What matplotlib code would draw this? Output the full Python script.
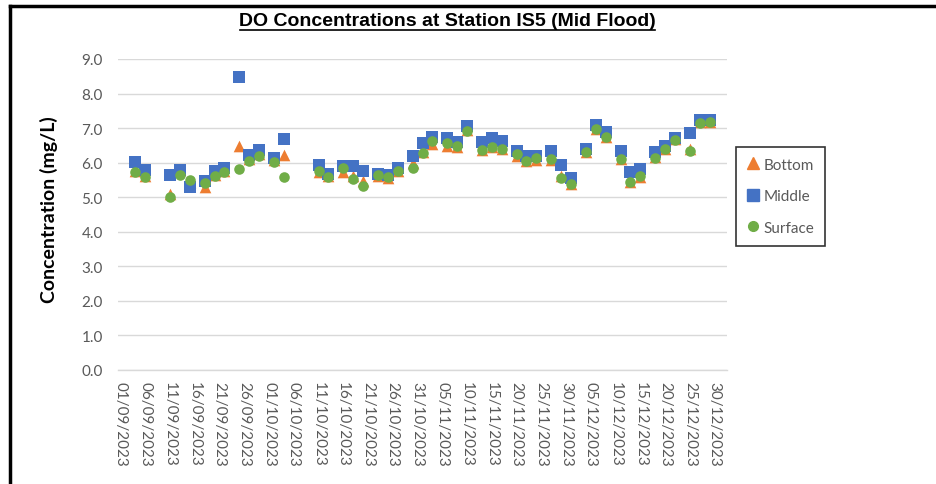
import matplotlib
matplotlib.use("Agg")
import matplotlib.pyplot as plt
import matplotlib.dates as mdates
from matplotlib import font_manager
from matplotlib.lines import Line2D
import datetime as dt

dates = ["04/09/2023", "06/09/2023", "11/09/2023", "13/09/2023", "15/09/2023", "18/09/2023",
         "20/09/2023", "22/09/2023", "25/09/2023", "27/09/2023", "29/09/2023", "02/10/2023",
         "04/10/2023", "11/10/2023", "13/10/2023", "16/10/2023", "18/10/2023", "20/10/2023",
         "23/10/2023", "25/10/2023", "27/10/2023", "30/10/2023", "01/11/2023", "03/11/2023",
         "06/11/2023", "08/11/2023", "10/11/2023", "13/11/2023", "15/11/2023", "17/11/2023",
         "20/11/2023", "22/11/2023", "24/11/2023", "27/11/2023", "29/11/2023", "01/12/2023",
         "04/12/2023", "06/12/2023", "08/12/2023", "11/12/2023", "13/12/2023", "15/12/2023",
         "18/12/2023", "20/12/2023", "22/12/2023", "25/12/2023", "27/12/2023", "29/12/2023"]

bottom = [5.75, 5.60, 5.09, 5.80, 5.45, 5.29, 5.65, 5.75, 6.47, 6.12, 6.25, 6.08,
          6.23, 5.72, 5.60, 5.72, 5.62, 5.48, 5.62, 5.57, 5.75, 5.99, 6.30, 6.55,
          6.47, 6.45, 6.95, 6.38, 6.45, 6.40, 6.20, 6.05, 6.08, 6.08, 5.62, 5.38,
          6.30, 6.98, 6.75, 6.12, 5.45, 5.58, 6.15, 6.40, 6.68, 6.40, 7.18, 7.18]

middle = [6.01, 5.79, 5.64, 5.79, 5.29, 5.46, 5.77, 5.84, 8.47, 6.23, 6.37, 6.13,
          6.68, 5.94, 5.67, 5.89, 5.89, 5.77, 5.67, 5.64, 5.86, 6.20, 6.56, 6.75,
          6.71, 6.61, 7.07, 6.59, 6.70, 6.62, 6.33, 6.20, 6.20, 6.33, 5.93, 5.56,
          6.39, 7.09, 6.88, 6.35, 5.72, 5.82, 6.30, 6.49, 6.70, 6.85, 7.23, 7.23]

surface = [5.74, 5.58, 5.00, 5.64, 5.51, 5.41, 5.62, 5.74, 5.82, 6.06, 6.20, 6.03,
           5.58, 5.75, 5.58, 5.86, 5.53, 5.32, 5.64, 5.58, 5.77, 5.84, 6.27, 6.62,
           6.58, 6.47, 6.93, 6.37, 6.44, 6.39, 6.25, 6.06, 6.13, 6.10, 5.55, 5.38,
           6.32, 6.98, 6.73, 6.12, 5.45, 5.60, 6.13, 6.39, 6.66, 6.33, 7.15, 7.17]

y_ticks = [0.0, 1.0, 2.0, 3.0, 4.0, 5.0, 6.0, 7.0, 8.0, 9.0]

x = [dt.datetime.strptime(d, "%d/%m/%Y") for d in dates]

available = {f.name for f in font_manager.fontManager.ttflist}
title_font = "Liberation Sans Narrow" if "Liberation Sans Narrow" in available else "Liberation Sans"
body_font = "Lato" if "Lato" in available else "DejaVu Sans"

fig = plt.figure(figsize=(9.36, 4.85), dpi=100)
ax = fig.add_axes([118 / 936, 1 - 371 / 485, (727 - 118) / 936, (371 - 60) / 485])

orange = "#ED7D31"
blue = "#4472C4"
green = "#70AD47"

ax.scatter(x, bottom, marker="^", s=70, color=orange, zorder=3, linewidths=0)
ax.scatter(x, middle, marker="s", s=66, color=blue, zorder=4, linewidths=0)
ax.scatter(x, surface, marker="o", s=58, color=green, zorder=5, linewidths=0)

start = dt.datetime(2023, 9, 1)
ax.set_xlim(mdates.date2num(start) - 0.5, mdates.date2num(dt.datetime(2024, 1, 1)) + 0.5)
ax.set_ylim(0, 9)
ax.set_yticks(y_ticks)
ax.set_yticklabels([f"{v:.1f}" for v in y_ticks], family=body_font)

xt = [start + dt.timedelta(days=5 * i) for i in range(25)]
ax.set_xticks([mdates.date2num(t) for t in xt])
ax.set_xticklabels([t.strftime("%d/%m/%Y") for t in xt], rotation=270, family=body_font)

ax.tick_params(axis="both", length=0, colors="#595959", labelsize=11)
ax.tick_params(axis="x", pad=8)
ax.tick_params(axis="y", pad=11)

ax.grid(axis="y", color="#d9d9d9", linewidth=1.0, zorder=0)
ax.set_axisbelow(True)
for s in ["top", "right", "left"]:
    ax.spines[s].set_visible(False)
ax.spines["bottom"].set_color("#d9d9d9")
ax.spines["bottom"].set_linewidth(1.0)

ax.set_ylabel("Concentration (mg/L)", fontsize=14, fontweight="bold", color="black",
              family=body_font)
ax.yaxis.set_label_coords(-60 / 609, 0.52)

fig.text(447 / 936, 1 - 21 / 485, "DO Concentrations at Station IS5 (Mid Flood)",
         ha="center", va="center", fontsize=14, fontweight="bold", family=title_font)
# underline
fig.add_artist(Line2D([240 / 936, 655 / 936], [1 - 31 / 485, 1 - 31 / 485], color="black",
                      linewidth=1.2, transform=fig.transFigure))

# outer frame lines
fig.add_artist(Line2D([10 / 936, 1.0], [1 - 7 / 485, 1 - 7 / 485], color="black",
                      linewidth=2.5, transform=fig.transFigure))
fig.add_artist(Line2D([10 / 936, 10 / 936], [0, 1 - 7 / 485], color="black",
                      linewidth=2.5, transform=fig.transFigure))

handles = [
    Line2D([], [], marker="^", linestyle="none", color=orange, markersize=9),
    Line2D([], [], marker="s", linestyle="none", color=blue, markersize=8),
    Line2D([], [], marker="o", linestyle="none", color=green, markersize=7),
]
leg = fig.legend(handles, ["Bottom", "Middle", "Surface"], loc="upper left",
                 bbox_to_anchor=(736 / 936, 1 - 148 / 485), borderaxespad=0,
                 frameon=True, fancybox=False,
                 edgecolor="black", labelspacing=1.15, handlelength=0.8,
                 handletextpad=0.3, borderpad=0.7, prop={"family": body_font, "size": 11})
leg.get_frame().set_linewidth(1.2)
for t in leg.get_texts():
    t.set_color("#595959")

fig.savefig("out.png", dpi=100)
